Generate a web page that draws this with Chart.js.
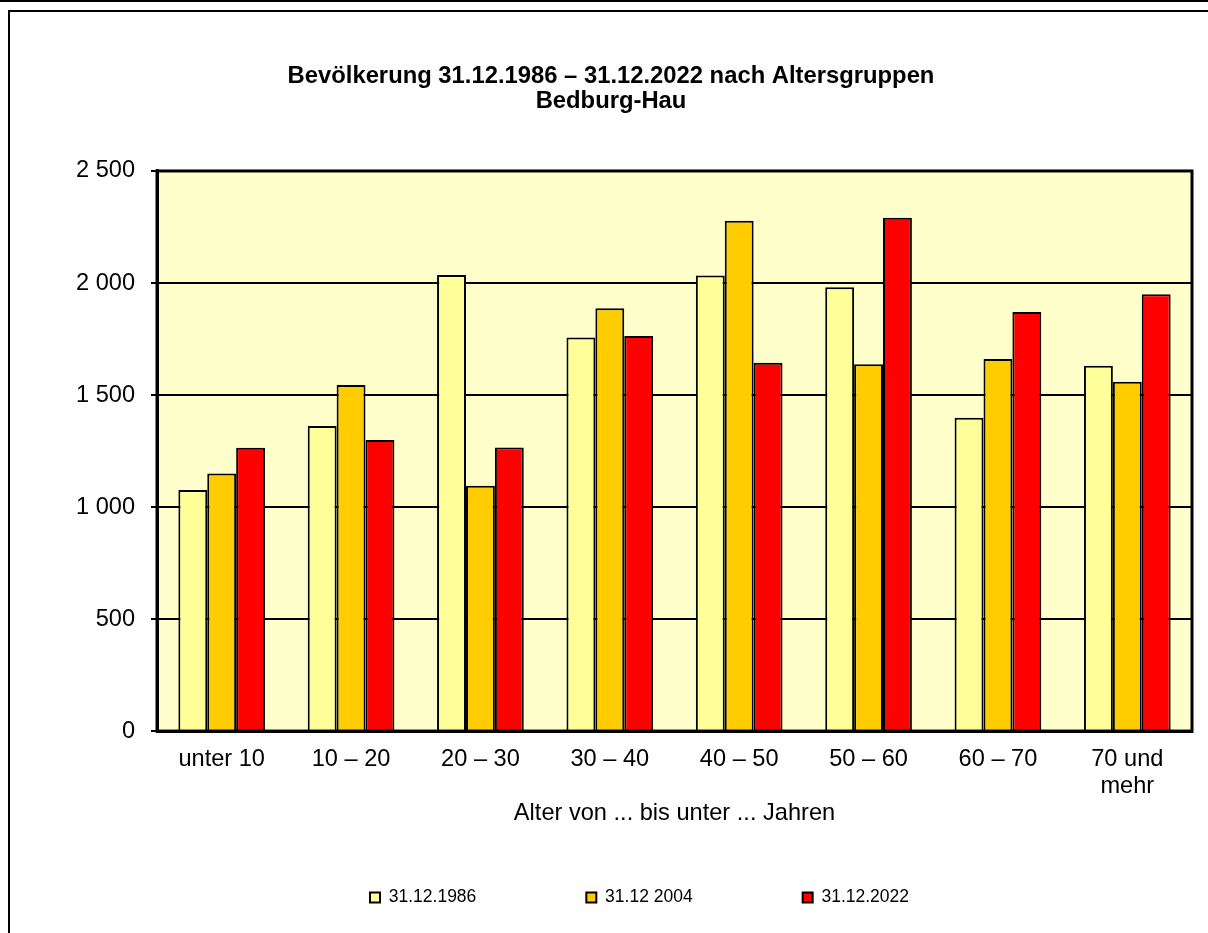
<!DOCTYPE html>
<html>
<head>
<meta charset="utf-8">
<script src="https://cdn.jsdelivr.net/npm/chart.js@4"></script>
<style>
  html, body { margin: 0; padding: 0; background: #fff; overflow: hidden; width: 1208px; height: 933px; }
  #topline { position: absolute; left: 0; top: 0; width: 1208px; height: 2px; background: #000; }
  #frame { position: absolute; left: 8px; top: 10px; width: 1300px; height: 1000px; border-left: 2px solid #000; border-top: 2px solid #000; }
  #wrap { position: absolute; left: 11px; top: 12px; width: 1200px; height: 953px; }
</style>
</head>
<body>
<div id="topline"></div>
<div id="frame"></div>
<div id="wrap"><canvas id="c"></canvas></div>
<script>
const categories = ['unter 10', '10 – 20', '20 – 30', '30 – 40', '40 – 50', '50 – 60', '60 – 70', ['70 und', 'mehr']];
const seriesNames = ['31.12.1986', '31.12 2004', '31.12.2022'];
const values1986 = [1076, 1362, 2036, 1757, 2033, 1981, 1399, 1631];
const values2004 = [1150, 1545, 1095, 1887, 2278, 1637, 1661, 1559];
const values2022 = [1265, 1299, 1266, 1763, 1644, 2291, 1871, 1950];
const titleLines = ['Bevölkerung 31.12.1986 – 31.12.2022 nach Altersgruppen', 'Bedburg-Hau'];
const xAxisTitle = 'Alter von ... bis unter ... Jahren';
const yMin = 0, yMax = 2500, yStep = 500;

const FONT = "'Liberation Sans', Arial, sans-serif";
Chart.defaults.color = '#000';
Chart.defaults.font.family = FONT;

const plotFrame = {
  id: 'plotFrame',
  beforeDraw(chart) {
    const a = chart.chartArea, ctx = chart.ctx;
    ctx.save();
    ctx.fillStyle = '#FFFFCC';
    ctx.fillRect(a.left, a.top, a.right - a.left, a.bottom - a.top);
    ctx.restore();
  },
  afterDraw(chart) {
    const a = chart.chartArea, ctx = chart.ctx;
    ctx.save();
    ctx.strokeStyle = '#000';
    ctx.lineWidth = 3;
    ctx.strokeRect(a.left, a.top, a.right - a.left, a.bottom - a.top);
    ctx.restore();
  }
};
const legendShift = {
  id: 'legendShift',
  afterLayout(chart) {
    const l = chart.legend;
    if (l) {
      l.left += 28.5; l.right += 28.5;
      l.top -= 48.85; l.bottom -= 48.85;
    }
  }
};

const colors = ['#FFFF99', '#FFCC00', '#FF0000'];
const allValues = [values1986, values2004, values2022];

new Chart(document.getElementById('c'), {
  type: 'bar',
  data: {
    labels: categories,
    datasets: seriesNames.map((n, i) => ({
      label: n,
      data: allValues[i],
      backgroundColor: colors[i],
      borderColor: '#000',
      borderWidth: 2,
      barPercentage: 1.0,
      categoryPercentage: 0.67
    }))
  },
  options: {
    responsive: true,
    maintainAspectRatio: false,
    animation: false,
    layout: { padding: { left: 19, right: 19, top: 0, bottom: 0 } },
    plugins: {
      title: {
        display: true,
        text: titleLines,
        color: '#000',
        font: { family: FONT, size: 23.8, weight: 'bold', lineHeight: 1.05 },
        padding: { top: 51.5, bottom: 57.5 }
      },
      legend: {
        position: 'bottom',
        labels: {
          boxWidth: 10,
          boxHeight: 10,
          padding: 110,
          color: '#000',
          font: { family: FONT, size: 17.5 }
        }
      },
      tooltip: { enabled: false }
    },
    scales: {
      x: {
        grid: { display: false, drawTicks: false },
        border: { display: true, color: '#000', width: 3 },
        ticks: { padding: 15, color: '#000', font: { family: FONT, size: 23.6, lineHeight: 1.136 }, maxRotation: 0, autoSkip: false },
        title: {
          display: true,
          text: xAxisTitle,
          color: '#000',
          font: { family: FONT, size: 23.6, lineHeight: 1.2 },
          padding: { top: -15.5, bottom: 0 }
        }
      },
      y: {
        min: yMin,
        max: yMax,
        afterFit(scale) { scale.width = 127; },
        grid: { color: '#000', lineWidth: 2, tickLength: 6, drawTicks: true },
        border: { display: true, color: '#000', width: 3 },
        ticks: {
          stepSize: yStep,
          padding: 16,
          color: '#000',
          font: { family: FONT, size: 23.6 },
          callback: v => String(v).replace(/\B(?=(\d{3})+(?!\d))/g, ' ')
        }
      }
    }
  },
  plugins: [plotFrame, legendShift]
});
</script>
</body>
</html>
